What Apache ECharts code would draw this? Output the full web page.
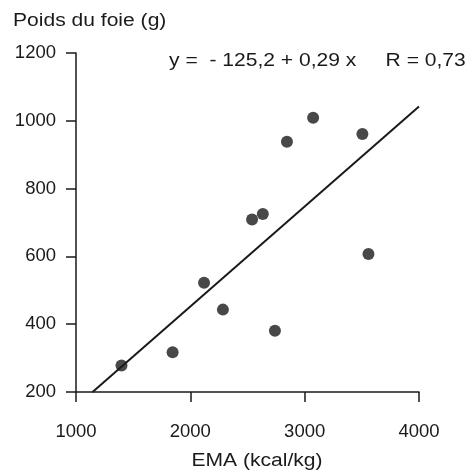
<!DOCTYPE html>
<html><head><meta charset="utf-8">
<script src="https://cdn.jsdelivr.net/npm/echarts@6/dist/echarts.min.js"></script>
<style>html,body{margin:0;padding:0;background:#fff}#c{width:473px;height:473px}</style>
</head><body><div id="c"></div>
<script>
const emaX = [1398, 1845, 2120, 2285, 2540, 2634, 2740, 2845, 3074, 3505, 3558];
const poidsY = [278, 317, 522, 443, 709, 725, 381, 938, 1009, 961, 607];
const lineX = [1145, 4000];
const lineY = [200, 1042];
const xTicks = [1000, 2000, 3000, 4000];
const yTicks = [200, 400, 600, 800, 1000, 1200];
const yTitle = 'Poids du foie (g)';
const xTitle = 'EMA (kcal/kg)';
const equation = 'y =  - 125,2 + 0,29 x     R = 0,73';
const FONT = 'Liberation Sans';
const INK = '#1a1a1a';
const SX = 1.17;

const chart = echarts.init(document.getElementById('c'));
function txt(s, x, y, align) {
  return {type: 'text', x: x, y: y, scaleX: SX, scaleY: 1,
    style: {text: s, x: 0, y: 0, fontSize: 18, fontFamily: FONT, fill: INK,
      textAlign: align, textVerticalAlign: 'middle'}};
}
chart.setOption({
  animation: false,
  backgroundColor: '#fff',
  grid: {left: 76, right: 54, top: 53, bottom: 81},
  xAxis: {
    type: 'value', min: xTicks[0], max: xTicks[xTicks.length - 1], interval: 1000,
    axisLine: {lineStyle: {color: INK, width: 1.5}},
    axisTick: {show: true, inside: false, length: 10, lineStyle: {color: INK, width: 1.5}},
    axisLabel: {color: INK, fontSize: 18.5, fontFamily: FONT, margin: 30,
      formatter: v => String(v)},
    splitLine: {show: false}
  },
  yAxis: {
    type: 'value', min: yTicks[0], max: yTicks[yTicks.length - 1], interval: 200,
    axisLine: {show: true, lineStyle: {color: INK, width: 1.5}},
    axisTick: {show: true, inside: false, length: 10, lineStyle: {color: INK, width: 1.5}},
    axisLabel: {color: INK, fontSize: 18.5, fontFamily: FONT, margin: 20,
      formatter: v => String(v)},
    splitLine: {show: false}
  },
  graphic: [
    txt(yTitle, 13, 21, 'left'),
    txt(equation, 169, 61, 'left'),
    txt(xTitle, 257, 461, 'center')
  ],
  series: [
    {type: 'line', data: lineX.map((x, i) => [x, lineY[i]]), symbol: 'none',
     lineStyle: {color: INK, width: 2}, silent: true},
    {type: 'scatter', data: emaX.map((x, i) => [x, poidsY[i]]), symbolSize: 12,
     itemStyle: {color: INK}}
  ]
});
</script></body></html>
